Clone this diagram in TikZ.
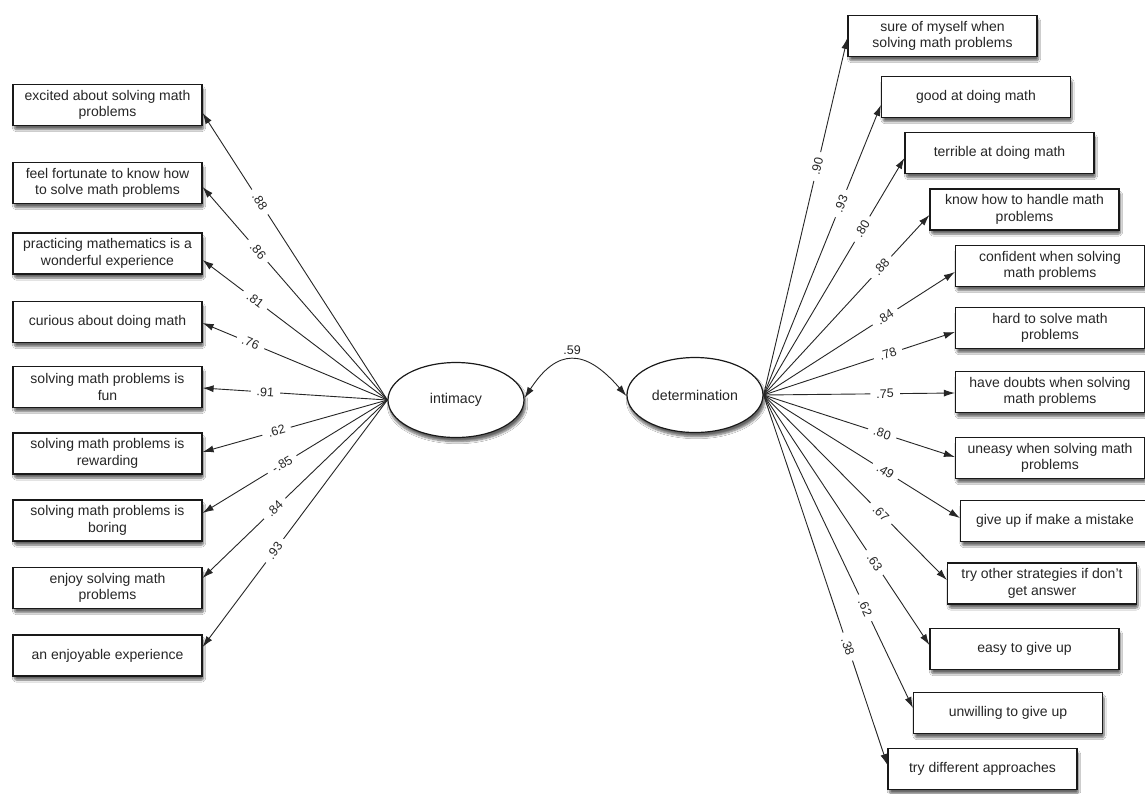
\documentclass[tikz,border=0pt]{standalone}
\usepackage{fontspec}
\setmainfont{Liberation Sans}
\usetikzlibrary{arrows.meta,shadows.blur,shapes.geometric}
\begin{document}
\begin{tikzpicture}[x=1pt,y=-1pt,
  every node/.style={text=black!85},
  sh/.style={blur shadow={shadow xshift=1.5pt,shadow yshift=-4pt,shadow blur steps=7,shadow blur extra rounding=2pt,shadow opacity=60}},
  box/.style={draw=black!90,line width=1.2pt,fill=white,rectangle,minimum width=189pt,minimum height=41pt,inner sep=2pt,align=center,font=\fontsize{14}{16.7}\selectfont,sh},
  lat/.style={draw=black!90,line width=1.2pt,fill=white,ellipse,minimum width=136pt,minimum height=75pt,inner sep=0pt,font=\fontsize{14.2}{16}\selectfont,sh},
  arr/.style={draw=black!85,line width=0.9pt,-{Latex[length=11pt,width=7pt]}},
  lab/.style={sloped,fill=white,inner xsep=6pt,inner ysep=0.5pt,font=\fontsize{12.5}{13}\selectfont}]
\useasboundingbox[fill=white] (0,0) rectangle (1145,793);

% latent variables
\node[lat] (int) at (456,400) {intimacy};
\node[lat] (det) at (695,395) {determination};

% left indicators
\node[box] (l1) at (107.5,105)   {excited about solving math\\problems};
\node[box] (l2) at (107.5,183)   {feel fortunate to know how\\to solve math problems};
\node[box] (l3) at (107.5,253.5) {practicing mathematics is a\\wonderful experience};
\node[box] (l4) at (107.5,322)   {curious about doing math};
\node[box] (l5) at (107.5,387)   {solving math problems is\\fun};
\node[box] (l6) at (107.5,453.5) {solving math problems is\\rewarding};
\node[box] (l7) at (107.5,520.5) {solving math problems is\\boring};
\node[box] (l8) at (107.5,588)   {enjoy solving math\\problems};
\node[box] (l9) at (107.5,655.5) {an enjoyable experience};

% right indicators
\node[box] (r1)  at (942.5,36)   {sure of myself when\\solving math problems};
\node[box] (r2)  at (976,97)     {good at doing math};
\node[box] (r3)  at (999.5,153)  {terrible at doing math};
\node[box] (r4)  at (1024.5,209.5) {know how to handle math\\problems};
\node[box] (r5)  at (1050,266)   {confident when solving\\math problems};
\node[box] (r6)  at (1050,328)   {hard to solve math\\problems};
\node[box] (r7)  at (1050,392)   {have doubts when solving\\math problems};
\node[box] (r8)  at (1050,458)   {uneasy when solving math\\problems};
\node[box] (r9)  at (1055,521)   {give up if make a mistake};
\node[box] (r10) at (1042,583.5) {try other strategies if don't\\get answer};
\node[box] (r11) at (1024.5,649) {easy to give up};
\node[box] (r12) at (1008,713)   {unwilling to give up};
\node[box] (r13) at (982.5,769)  {try different approaches};

% left loadings
\draw[arr] (int.west) -- node[lab,pos=0.69] {.88} ([yshift=-8pt]l1.east);
\draw[arr] (int.west) -- node[lab,pos=0.70] {.86} ([yshift=-4pt]l2.east);
\draw[arr] (int.west) -- node[lab,pos=0.715] {.81} ([yshift=-6.5pt]l3.east);
\draw[arr] (int.west) -- node[lab,pos=0.74] {.76} ([yshift=-1pt]l4.east);
\draw[arr] (int.west) -- node[lab,pos=0.66] {.91} ([yshift=-1pt]l5.east);
\draw[arr] (int.west) -- node[lab,pos=0.60] {.62} ([yshift=1.5pt]l6.east);
\draw[arr] (int.west) -- node[lab,pos=0.57] {-.85} ([yshift=7.5pt]l7.east);
\draw[arr] (int.west) -- node[lab,pos=0.61] {.84} ([yshift=10pt]l8.east);
\draw[arr] (int.west) -- node[lab,pos=0.61] {.93} ([yshift=8.5pt]l9.east);

% right loadings
\draw[arr] (det.east) -- node[lab,pos=0.64] {.90} ([yshift=-2pt]r1.west);
\draw[arr] (det.east) -- node[lab,pos=0.66] {.93} ([yshift=-8pt]r2.west);
\draw[arr] (det.east) -- node[lab,pos=0.70] {.80} ([yshift=-5pt]r3.west);
\draw[arr] (det.east) -- node[lab,pos=0.71] {.88} ([yshift=-5.5pt]r4.west);
\draw[arr] (det.east) -- node[lab,pos=0.635] {.84} ([yshift=-6pt]r5.west);
\draw[arr] (det.east) -- node[lab,pos=0.65] {.78} ([yshift=-4pt]r6.west);
\draw[arr] (det.east) -- node[lab,pos=0.635] {.75} ([yshift=-1pt]r7.west);
\draw[arr] (det.east) -- node[lab,pos=0.62] {.80} ([yshift=1pt]r8.west);
\draw[arr] (det.east) -- node[lab,pos=0.62] {.49} ([yshift=3pt]r9.west);
\draw[arr] (det.east) -- node[lab,pos=0.64] {.67} ([yshift=3.5pt]r10.west);
\draw[arr] (det.east) -- node[lab,pos=0.67] {.63} ([yshift=4pt]r11.west);
\draw[arr] (det.east) -- node[lab,pos=0.68] {.62} ([yshift=5pt]r12.west);
\draw[arr] (det.east) -- node[lab,pos=0.68] {.38} ([yshift=4pt]r13.west);

% correlation
\draw[draw=black!85,line width=0.9pt,{Latex[length=11pt,width=7pt]}-{Latex[length=11pt,width=7pt]}]
  ([yshift=2pt]int.east) .. controls (557,348) and (585,348) .. ([yshift=-1pt]det.west)
  node[pos=0.5,above=2pt,font=\fontsize{12.5}{13}\selectfont] {.59};
\end{tikzpicture}
\end{document}
